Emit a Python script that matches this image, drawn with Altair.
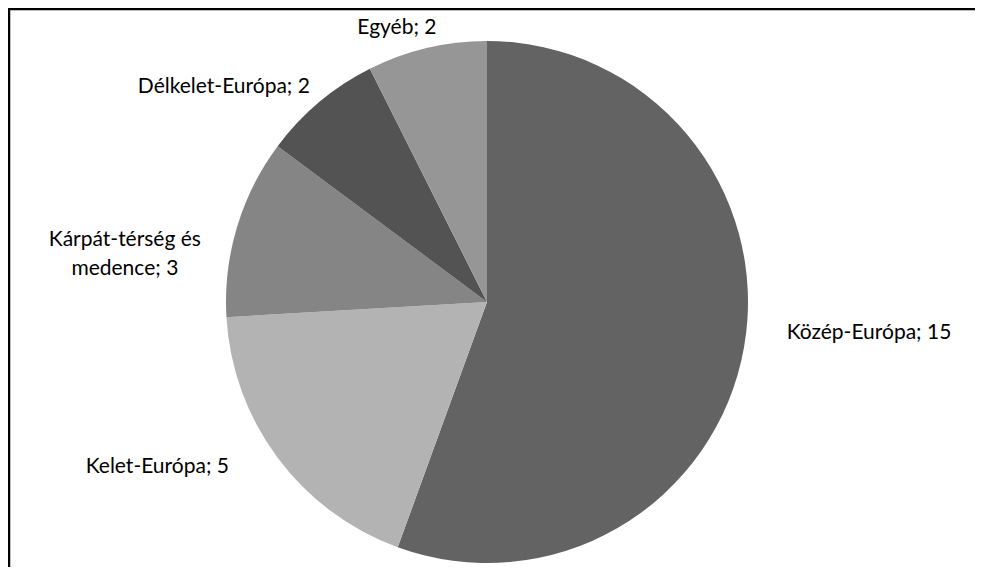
import altair as alt
import pandas as pd

categories = ["Közép-Európa", "Kelet-Európa", "Kárpát-térség és medence", "Délkelet-Európa", "Egyéb"]
values = [15, 5, 3, 2, 2]
labels = ["Közép-Európa; 15", "Kelet-Európa; 5", "Kárpát-térség és\nmedence; 3", "Délkelet-Európa; 2", "Egyéb; 2"]
colors = ["#636363", "#b3b3b3", "#858585", "#535353", "#969696"]

# label nudges (dx, dy) from the radial mid-angle anchor
label_offsets = [(57, -26), (-65, -32), (-46, 33), (-51, 38), (-14, 47)]

df = pd.DataFrame({"cat": categories, "value": values, "label": labels,
                   "idx": list(range(len(categories)))})

CX, CY = 471, 286
R = 261
LABEL_R = 330

base = alt.Chart(df)

pie = base.mark_arc(radius=R).encode(
    theta=alt.Theta("value:Q", stack=True),
    order=alt.Order("idx:Q"),
    color=alt.Color("cat:N", scale=alt.Scale(domain=categories, range=colors), legend=None),
    x=alt.value(CX),
    y=alt.value(CY),
)

text_base = (
    base.transform_window(cum="sum(value)", sort=[alt.SortField("idx")], frame=[None, 0])
    .transform_joinaggregate(total="sum(value)")
    .transform_calculate(mid="(datum.cum - datum.value/2)/datum.total")
)

texts = []
for cat, (dx, dy) in zip(categories, label_offsets):
    texts.append(
        text_base.transform_filter(alt.datum.cat == cat)
        .mark_text(radius=LABEL_R, dx=dx, dy=dy, font="Lato", fontSize=21,
                   lineBreak="\n", lineHeight=29, color="black", align="center", baseline="middle")
        .encode(
            theta=alt.Theta("mid:Q", scale=alt.Scale(domain=[0, 1])),
            text="label:N",
            x=alt.value(CX),
            y=alt.value(CY),
        )
    )
text_layer = alt.layer(*texts)

one = alt.Chart(pd.DataFrame({"a": [0]}))
top_rule = one.mark_rule(color="black", strokeWidth=2.5).encode(
    x=alt.value(-8), x2=alt.value(959), y=alt.value(-7))
left_rule = one.mark_rule(color="black", strokeWidth=2.5).encode(
    x=alt.value(-7), y=alt.value(-8), y2=alt.value(551))

chart = alt.layer(pie, text_layer, top_rule, left_rule).resolve_scale(
    theta="independent"
).properties(
    width=959, height=551,
    padding={"left": 8, "top": 8, "right": 0, "bottom": 0},
    autosize=alt.AutoSizeParams(type="none"),
).configure_view(stroke=None)

chart.save("out.html", embed_options={"renderer": "svg", "actions": False})
